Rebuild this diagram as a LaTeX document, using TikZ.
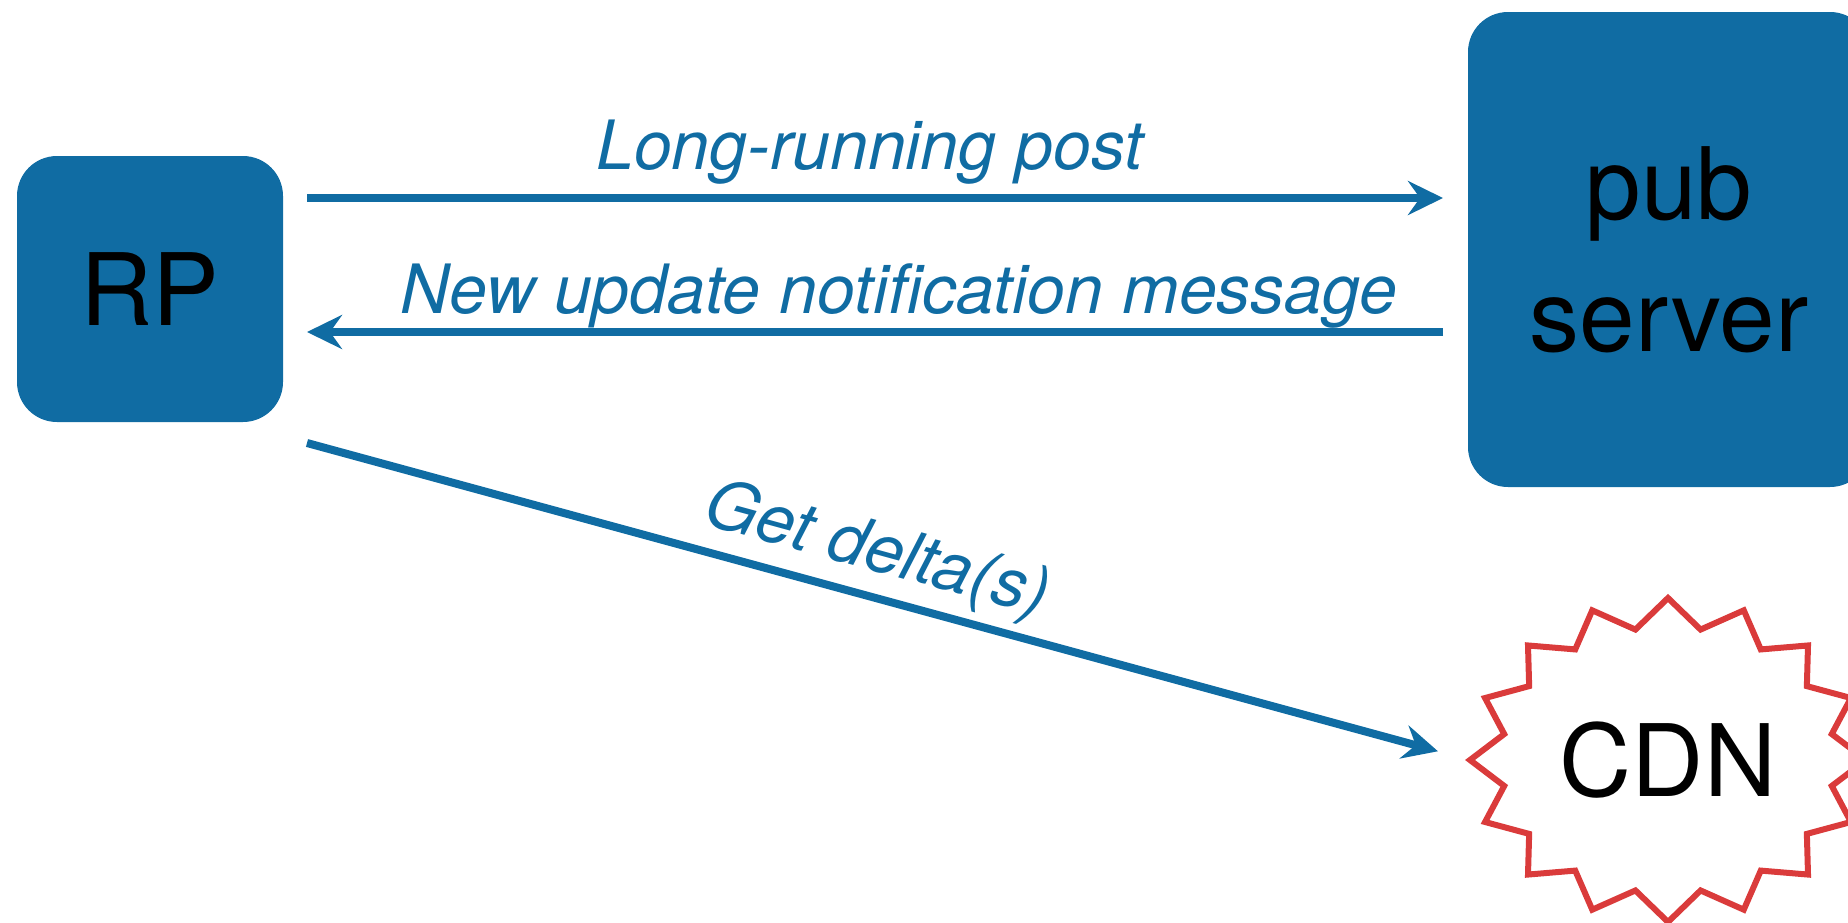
\documentclass[tikz,border=0pt]{standalone}
\usepackage{fontspec}
\setmainfont{TeX Gyre Heros}
\usetikzlibrary{arrows.meta}
\definecolor{flowblue}{HTML}{106CA3}
\definecolor{cdnred}{HTML}{DA3B3B}

\begin{document}
\begin{tikzpicture}[x=0.5pt, y=-0.5pt,
    box/.style={fill=flowblue, rounded corners=20pt, inner sep=0pt, outer sep=0pt,
        align=center, font=\fontsize{50}{66}\selectfont},
    flow/.style={draw=flowblue, line width=4pt,
        -{Stealth[length=17.5pt, width=17pt, inset=6pt]}},
    msg/.style={text=flowblue, font=\fontsize{34}{40}\selectfont\itshape,
        inner sep=0pt, anchor=base}]

        % Frame (reference margins)
        \useasboundingbox (0,0) rectangle (1848,922);

        % Nodes (boxes)
        \node[box, minimum width=133pt, minimum height=133pt] (RP) at (150,289) {RP};
        \node[box, minimum width=201pt, minimum height=237.5pt] (Pub) at (1669,249.5) {pub\\server};
        \node[inner sep=0pt, outer sep=0pt, minimum width=198pt, minimum height=162pt,
            font=\fontsize{50}{66}\selectfont] (CDN) at (1668,760) {CDN};

        % Star round the CDN
        \draw[cdnred, line width=3pt, shift={(CDN.center)}]
            (90:198 and 162)
            \foreach \i in {1,...,16} {
                -- ({90+22.5*\i-11.25}:167 and 133) -- ({90+22.5*\i}:198 and 162)
            } -- cycle;

        % Connector ends
        \coordinate (PostOut) at ([yshift=45.5pt]RP.east);
        \coordinate (NoteIn) at ([yshift=-21.5pt]RP.east);
        \coordinate (GetOut) at ([shift={(12pt,-10.5pt)}]RP.south east);

        % Connecting Lines
        \draw[flow, shorten <=12pt, shorten >=12.5pt] (PostOut) -- (PostOut -| Pub.west)
            node[msg, pos=0.495, yshift=14.25pt] {Long-running post};
        \draw[flow, shorten <=12.5pt, shorten >=12pt] (NoteIn -| Pub.west) -- (NoteIn)
            node[msg, pos=0.48, yshift=9.5pt] {New update notification message};
        \draw[flow, shorten >=16.6pt] (GetOut) -- (CDN.west)
            node[msg, sloped, pos=0.48, yshift=13pt] {Get delta(s)};

    \end{tikzpicture}
\end{document}
